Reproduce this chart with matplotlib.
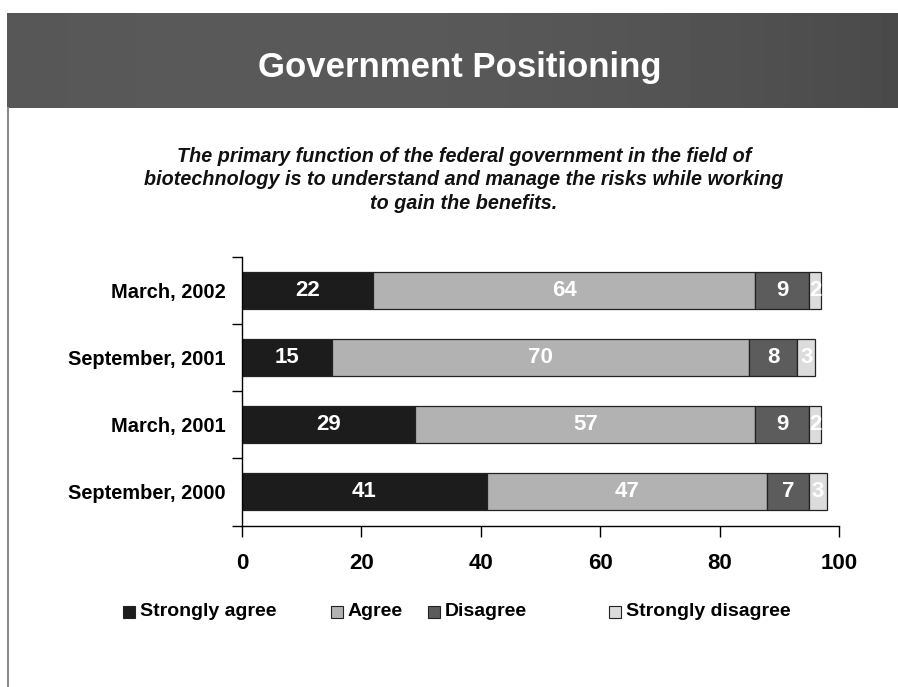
import matplotlib.pyplot as plt
import numpy as np
from matplotlib.patches import Rectangle

plt.rcParams['font.family'] = ['Liberation Sans', 'DejaVu Sans']

# Umfragewerte in Prozent
periods = ['March, 2002', 'September, 2001', 'March, 2001', 'September, 2000']
strongly_agree = [22, 15, 29, 41]
agree = [64, 70, 57, 47]
disagree = [9, 8, 9, 7]
strongly_disagree = [2, 3, 2, 3]

series_names = ['Strongly agree', 'Agree', 'Disagree', 'Strongly disagree']
series_colors = ['#1c1c1c', '#b2b2b2', '#5c5c5c', '#dcdcdc']
x_ticks = [0, 20, 40, 60, 80, 100]

fig = plt.figure(figsize=(8.98, 6.87), dpi=100)
W, H = 898, 687

# Kopfbalken, leicht dunkler nach rechts
bg = fig.add_axes([7 / W, 1 - 108 / H, 1 - 7 / W, 95 / H])
grad = np.linspace(0, 1, 256)
shade = 0.34 + 0.02 * np.sin(grad * np.pi) - 0.05 * grad ** 2
bg.imshow(np.tile(shade, (10, 1)), cmap='gray', vmin=0, vmax=1,
          aspect='auto', extent=[0, 1, 0, 1])
bg.axis('off')
fig.text(460 / W, 1 - 67 / H, 'Government Positioning', ha='center', va='center',
         fontsize=25, fontweight='bold', color='white')

# linke Randlinie der Folie
fig.add_artist(plt.Line2D([8 / W, 8 / W], [0, 1 - 108 / H], color='#8a8a8a', lw=1.5))

fig.text(464 / W, 1 - 180 / H,
         'The primary function of the federal government in the field of\n'
         'biotechnology is to understand and manage the risks while working\n'
         'to gain the benefits.',
         ha='center', va='center', fontsize=14.2, fontweight='bold',
         fontstyle='italic', linespacing=1.27, color='#111111')

ax = fig.add_axes([242 / W, 1 - 525.5 / H, 597 / W, 269 / H])

y = np.arange(len(periods))[::-1]
data = [strongly_agree, agree, disagree, strongly_disagree]
left = np.zeros(len(periods))
for vals, name, col in zip(data, series_names, series_colors):
    bars = ax.barh(y, vals, left=left, height=0.55, color=col,
                   edgecolor='#222222', linewidth=0.9, label=name)
    ax.bar_label(bars, labels=[str(v) for v in vals], label_type='center',
                 color='white', fontsize=16, fontweight='bold')
    left += np.array(vals)

ax.set_xlim(0, 100)
ax.set_ylim(-0.5, len(periods) - 0.5)
ax.set_xticks(x_ticks)
ax.set_xticklabels([str(t) for t in x_ticks], fontsize=16, fontweight='bold')
ax.tick_params(axis='x', length=8, width=1, pad=12)

# Hauptstriche an den Kategoriegrenzen, Beschriftung in der Mitte
ax.set_yticks(np.arange(-0.5, len(periods), 1.0))
ax.set_yticklabels([])
ax.tick_params(axis='y', which='major', length=7, width=1)
ax.set_yticks(y, minor=True)
ax.set_yticklabels(periods, minor=True, fontsize=14.4, fontweight='bold')
ax.tick_params(axis='y', which='minor', length=0, pad=12)

for s in ['top', 'right']:
    ax.spines[s].set_visible(False)
for s in ['left', 'bottom']:
    ax.spines[s].set_linewidth(1)

# Legende von Hand gesetzt
leg_x = [123, 331, 428, 609]
leg_y = 1 - 611.5 / H
for lx, name, col in zip(leg_x, series_names, series_colors):
    fig.add_artist(Rectangle((lx / W, leg_y - 6 / H), 12 / W, 12 / H,
                             facecolor=col, edgecolor='#222222', lw=0.8,
                             transform=fig.transFigure))
    fig.text((lx + 17) / W, leg_y, name, ha='left', va='center',
             fontsize=14, fontweight='bold')

fig.savefig('out.png', dpi=100)
